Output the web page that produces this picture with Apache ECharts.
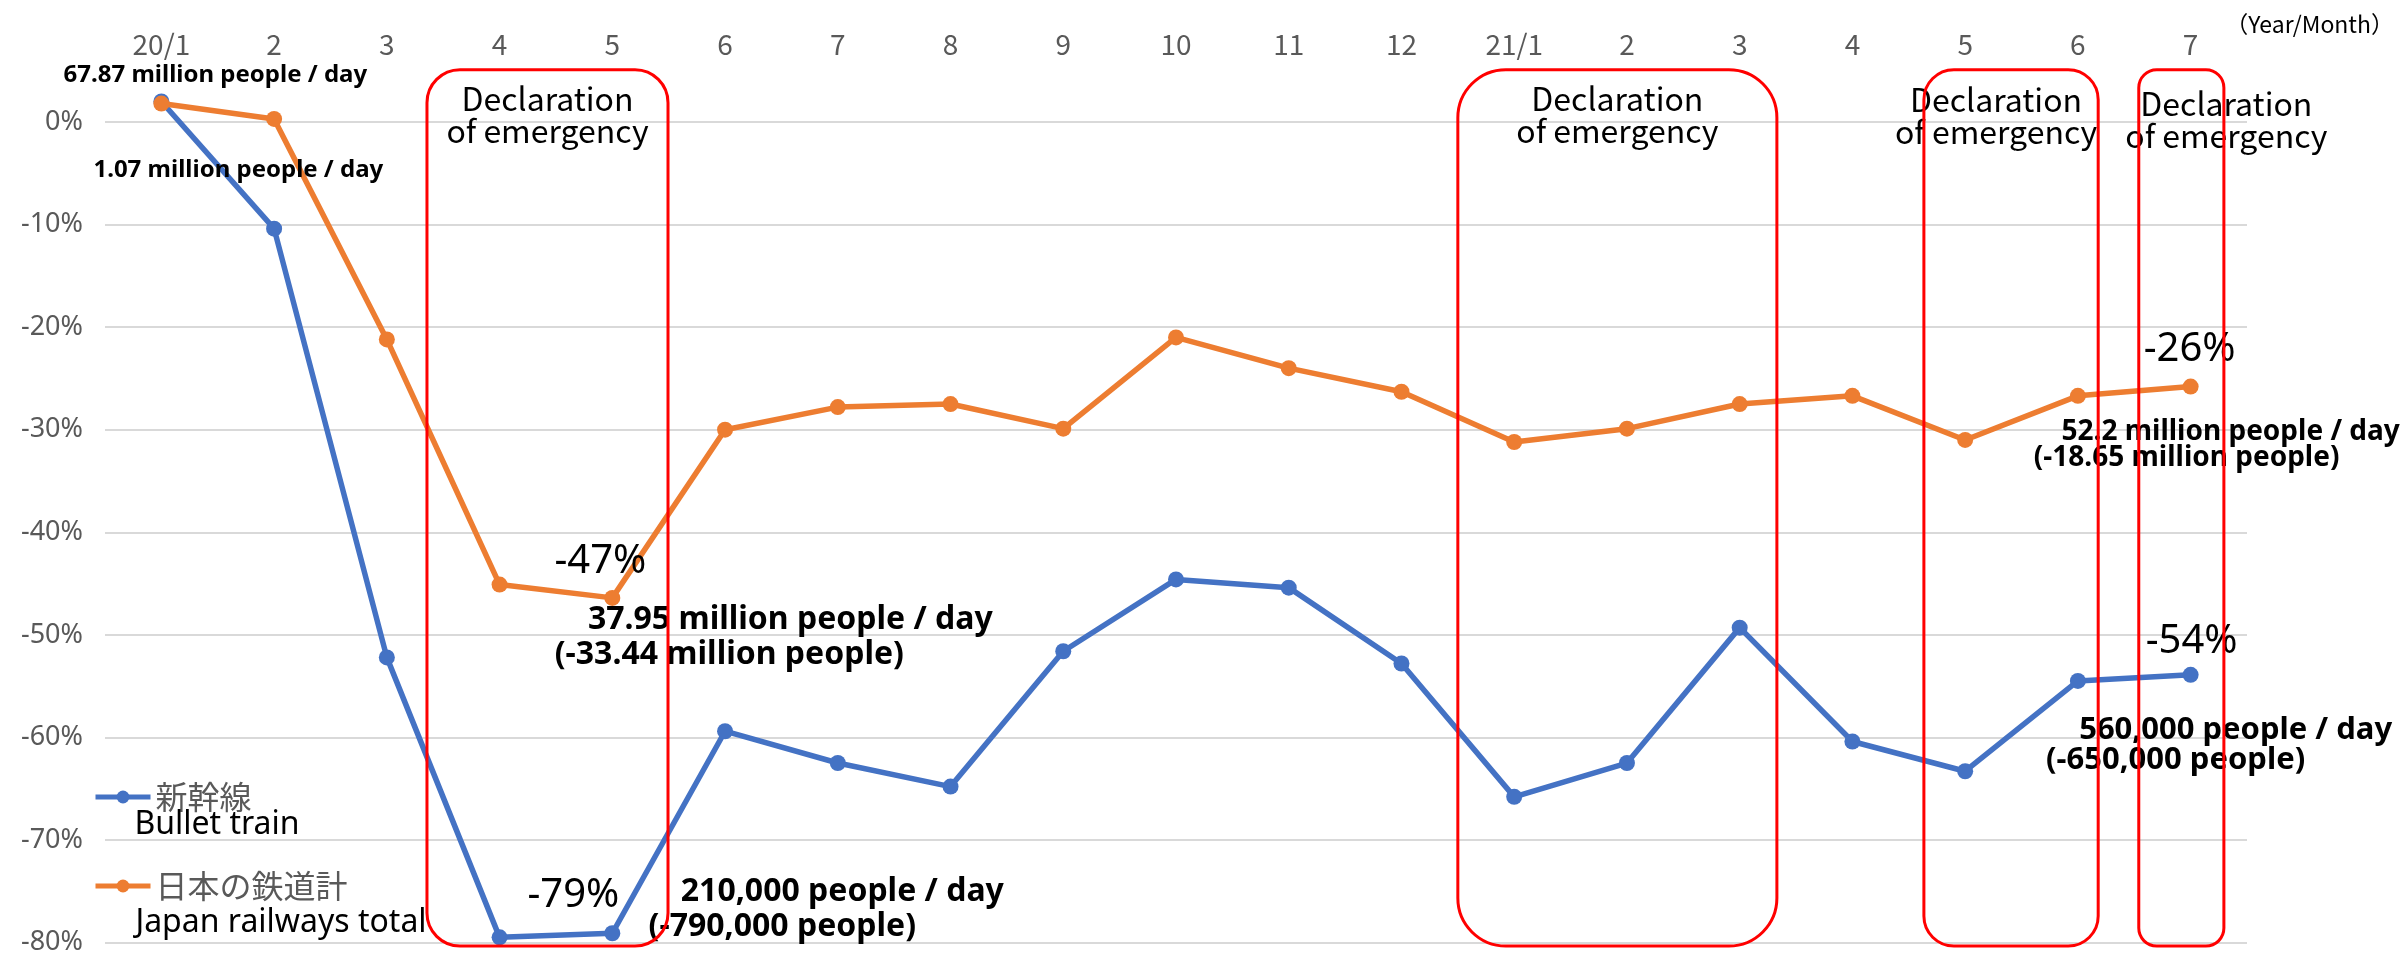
<!DOCTYPE html>
<html>
<head>
<meta charset="utf-8">
<script src="https://cdn.jsdelivr.net/npm/echarts@6/dist/echarts.min.js"></script>
<style>
html,body{margin:0;padding:0;background:#fff;}
#chart{width:2404px;height:956px;}
</style>
</head>
<body>
<div id="chart"></div>
<script>
// ---- data ----
const categories = ['2020-01','2020-02','2020-03','2020-04','2020-05','2020-06','2020-07','2020-08','2020-09','2020-10','2020-11','2020-12','2021-01','2021-02','2021-03','2021-04','2021-05','2021-06','2021-07'];
const xTickLabels = ['20/1','2','3','4','5','6','7','8','9','10','11','12','21/1','2','3','4','5','6','7'];
const yTickValues = [0,-10,-20,-30,-40,-50,-60,-70,-80];
const bulletTrain = [2.0,-10.4,-52.2,-79.5,-79.1,-59.4,-62.5,-64.8,-51.6,-44.6,-45.4,-52.8,-65.8,-62.5,-49.3,-60.4,-63.3,-54.5,-53.9];
const railTotal   = [1.8,0.3,-21.2,-45.1,-46.4,-30.0,-27.8,-27.5,-29.9,-21.0,-24.0,-26.3,-31.2,-29.9,-27.5,-26.7,-31.0,-26.7,-25.8];
const seriesNames = ['新幹線','日本の鉄道計'];
const seriesEnglish = ['Bullet train','Japan railways total'];
// emergency declaration periods: [first category index, last category index]
const emergencyPeriods = [[3,4],[12,14],[16,17],[18,18]];
const emergencyText = 'Declaration\nof emergency';
// annotations: [series index, category index, text]
const annotations = [
  [1,0,'67.87 million people / day'],
  [0,0,'1.07 million people / day'],
  [1,4,'-47%'],
  [1,4,'37.95 million people / day'],
  [1,4,'(-33.44 million people)'],
  [0,4,'-79%'],
  [0,4,'210,000 people / day'],
  [0,4,'(-790,000 people)'],
  [1,18,'-26%'],
  [1,18,'52.2 million people / day'],
  [1,18,'(-18.65 million people)'],
  [0,18,'-54%'],
  [0,18,'560,000 people / day'],
  [0,18,'(-650,000 people)']
];

// ---- styles (positions relative to anchors) ----
const annStyle = [
  {dx:54, dy:-28, font:'bold 24px "Noto Sans"'},
  {dx:77, dy:69, font:'bold 24px "Noto Sans"'},
  {dx:-12, dy:-36, font:'40px "Noto Sans"'},
  {dx:178, dy:22, font:'bold 32px "Noto Sans"'},
  {dx:117, dy:57, font:'bold 32px "Noto Sans"'},
  {dx:-39, dy:-38, font:'40px "Noto Sans"'},
  {dx:230, dy:-41, font:'bold 32px "Noto Sans"'},
  {dx:170, dy:-6, font:'bold 32px "Noto Sans"'},
  {dx:-1, dy:-37, font:'40px "Noto Sans"'},
  {dx:40, dy:45, font:'bold 28px "Noto Sans"'},
  {dx:-4, dy:71, font:'bold 28px "Noto Sans"'},
  {dx:1, dy:-33, font:'40px "Noto Sans"'},
  {dx:45, dy:55, font:'bold 31px "Noto Sans"'},
  {dx:-15, dy:85, font:'bold 31px "Noto Sans"'}
];
const boxStyle = [
  {l:0.644, r:0.494, rad:33, tdx:0, tdy:0},
  {l:0.50, r:0.33, rad:48, tdx:0, tdy:0},
  {l:0.366, r:0.18, rad:30, tdx:-15, tdy:1},
  {l:0.46, r:0.295, rad:18, tdx:45, tdy:5}
];

const colors = ['#4472C4','#ED7D31'];
const chart = echarts.init(document.getElementById('chart'));
chart.setOption({
  animation:false,
  backgroundColor:'#ffffff',
  grid:{left:105, right:157, top:122, bottom:12, containLabel:false},
  xAxis:{
    type:'category', position:'top', data:categories, boundaryGap:true,
    axisLine:{show:false}, axisTick:{show:false},
    axisLabel:{color:'#595959', fontSize:28, fontFamily:'"Noto Sans CJK JP"', margin:64, interval:0,
      formatter:(v,i)=>xTickLabels[i]},
    splitLine:{show:false}
  },
  yAxis:{
    type:'value', min:yTickValues[yTickValues.length-1], max:yTickValues[0], interval:10,
    axisLine:{show:false}, axisTick:{show:false},
    axisLabel:{color:'#595959', fontSize:27, fontFamily:'"Noto Sans"', margin:22, formatter:'{value}%'},
    splitLine:{lineStyle:{color:'#D9D9D9', width:2}}
  },
  legend:{
    orient:'vertical', left:93, top:781, padding:0, itemWidth:55, itemHeight:16, itemGap:57,
    data:seriesNames,
    lineStyle:{width:5},
    formatter:(n)=>'{a|'+n+'}',
    textStyle:{color:'#595959', fontSize:32, fontFamily:'"Noto Sans CJK JP"',
      rich:{a:{color:'#595959', fontSize:32, fontFamily:'"Noto Sans CJK JP"', lineHeight:36}}}
  },
  series:[
    {name:seriesNames[0], type:'line', data:bulletTrain, clip:false, symbol:'circle', symbolSize:16,
     lineStyle:{color:colors[0], width:5.5}, itemStyle:{color:colors[0]}, z:3},
    {name:seriesNames[1], type:'line', data:railTotal, clip:false, symbol:'circle', symbolSize:16,
     lineStyle:{color:colors[1], width:5.5}, itemStyle:{color:colors[1]}, z:4}
  ]
});

// ---- annotation graphics positioned through the chart's scales ----
const seriesData = [bulletTrain, railTotal];
const px = (i,v)=>chart.convertToPixel({gridIndex:0},[i,v]);
const band = px(1,0)[0]-px(0,0)[0];
const yTop = px(0,5.1)[1];
const yBot = px(0,-80.35)[1];
const graphics = [];
emergencyPeriods.forEach((p,k)=>{
  const s = boxStyle[k];
  const x0 = px(p[0],0)[0] - s.l*band;
  const x1 = px(p[1],0)[0] + s.r*band;
  graphics.push({type:'rect', z:100, silent:true,
    shape:{x:x0, y:yTop, width:x1-x0, height:yBot-yTop, r:s.rad},
    style:{fill:'none', stroke:'#FF0000', lineWidth:3}});
  graphics.push({type:'text', z:90, silent:true,
    x:(x0+x1)/2 + s.tdx, y:yTop+45+s.tdy,
    style:{text:emergencyText, fill:'#000', font:'32px "Noto Sans CJK JP"', lineHeight:32,
      align:'center', verticalAlign:'middle', textAlign:'center', textVerticalAlign:'middle'}});
});
annotations.forEach((a,k)=>{
  const p = px(a[1], seriesData[a[0]][a[1]]);
  const s = annStyle[k];
  graphics.push({type:'text', z:50, silent:true, x:p[0]+s.dx, y:p[1]+s.dy,
    style:{text:a[2], fill:'#000', font:s.font, align:'center', verticalAlign:'middle', textAlign:'center', textVerticalAlign:'middle'}});
});
// English legend captions
const legendEn = [[217,825],[281,923]];
seriesEnglish.forEach((t,k)=>{
  graphics.push({type:'text', z:50, silent:true, x:legendEn[k][0], y:legendEn[k][1],
    style:{text:t, fill:'#000', font:'32px "Noto Sans"', align:'center', verticalAlign:'middle', textAlign:'center', textVerticalAlign:'middle'}});
});
graphics.push({type:'text', z:50, silent:true, x:2394, y:24,
  style:{text:'（Year/Month）', fill:'#000', font:'23px "Noto Sans CJK JP"', align:'right', verticalAlign:'middle', textAlign:'right', textVerticalAlign:'middle'}});
chart.setOption({graphic:graphics});
</script>
</body>
</html>
